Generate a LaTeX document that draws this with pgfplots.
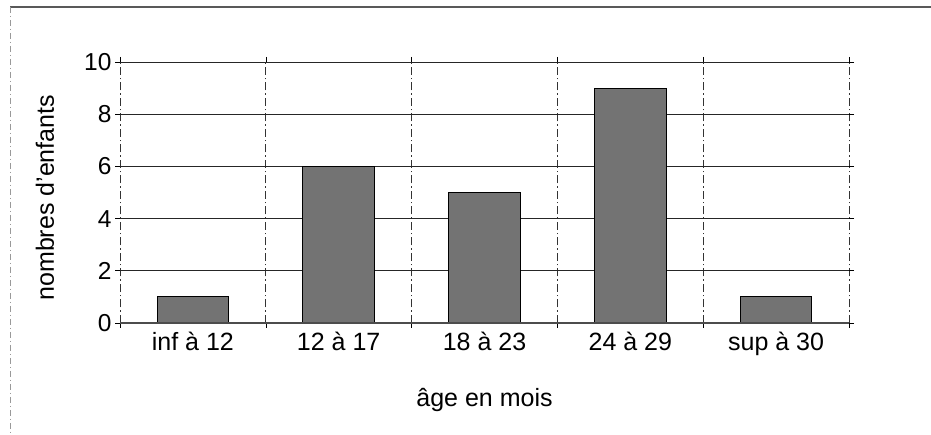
\documentclass[border=0pt]{standalone}
\usepackage{fontspec}
\setmainfont{Liberation Sans}
\usepackage{pgfplots}
\pgfplotsset{compat=1.18}
\begin{document}
\begin{tikzpicture}[x=1bp,y=1bp]
\path[use as bounding box] (0,0) rectangle (931,435);
\draw[gray!70!black, line width=1.2bp] (10,428) -- (931,428);
\draw[gray!80, line width=0.8bp, dash pattern=on 6bp off 3bp on 1bp off 3bp] (10,428) -- (10,0);
\begin{axis}[
  at={(120bp,112bp)}, anchor=south west,
  scale only axis, width=729bp, height=261bp,
  xmin=0, xmax=5, ymin=0, ymax=10,
  axis line style={draw=none},
  xtick={0.5,1.5,2.5,3.5,4.5},
  xticklabels={inf à 12, 12 à 17, 18 à 23, 24 à 29, sup à 30},
  major x tick style={draw=none},
  minor xtick={0,1,2,3,4,5},
  minor x tick style={black, line width=0.6bp},
  minor tick length=5bp,
  xminorgrids=true,
  minor x grid style={black!80, line width=0.7bp, dash pattern=on 8bp off 3bp on 1.5bp off 3bp},
  ytick={0,2,4,6,8,10},
  ymajorgrids=true,
  major y grid style={black!85, line width=0.8bp},
  major y tick style={black, line width=0.6bp},
  major tick length=5bp,
  tick align=outside,
  x tick label style={font=\fontsize{25bp}{28bp}\selectfont, yshift=-1bp},
  y tick label style={font=\fontsize{24.5bp}{28bp}\selectfont},
  /pgf/number format/assume math mode=true,
  xlabel={âge en mois},
  ylabel={nombres d'enfants},
  label style={font=\fontsize{25bp}{28bp}\selectfont},
  xlabel style={at={(axis description cs:0.5,-0.295)}, anchor=center},
  ylabel style={at={(axis description cs:-0.103,0.48)}, anchor=center},
  clip=false,
]
\addplot[ybar, bar width=0.49, fill=black!55, draw=black, line width=1bp]
  coordinates {(0.5,1) (1.5,6) (2.5,5) (3.5,9) (4.5,1)};
\draw[gray!60!black, line width=1.2bp] (axis cs:0,0) -- (axis cs:5,0);
\end{axis}
\end{tikzpicture}
\end{document}
